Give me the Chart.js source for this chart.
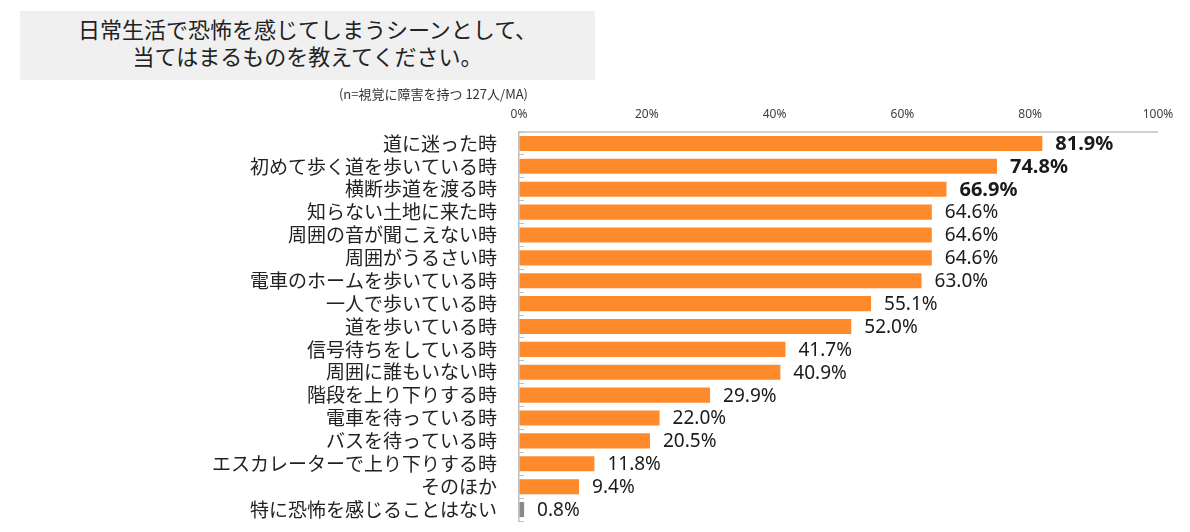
<!DOCTYPE html>
<html lang="ja">
<head>
<meta charset="utf-8">
<title>日常生活で恐怖を感じてしまうシーン</title>
<script src="https://cdn.jsdelivr.net/npm/chart.js@4/dist/chart.umd.min.js"></script>
<style>
  html, body { margin: 0; padding: 0; background: #fff; }
  body { width: 1190px; height: 532px; position: relative; overflow: hidden;
         font-family: "Noto Sans CJK JP", "Noto Sans", sans-serif; color: #222; }
  #titleBox { position: absolute; left: 20px; top: 11px; width: 575px; height: 69px;
              background: #f0f0f0; text-align: center; font-size: 22px; line-height: 27px;
              padding-top: 4px; box-sizing: border-box; z-index: 2; }
  #note { position: absolute; left: 0; top: 84px; width: 528px; text-align: right;
          font-size: 13px; color: #333; z-index: 2; }
  #chart { position: absolute; left: 0; top: 0; }
</style>
</head>
<body>
<div id="titleBox">日常生活で恐怖を感じてしまうシーンとして、<br>当てはまるものを教えてください。</div>
<div id="note">(n=視覚に障害を持つ 127人/MA)</div>
<canvas id="chart" width="1190" height="532"></canvas>
<script>
'use strict';

const categories = [
  '道に迷った時',
  '初めて歩く道を歩いている時',
  '横断歩道を渡る時',
  '知らない土地に来た時',
  '周囲の音が聞こえない時',
  '周囲がうるさい時',
  '電車のホームを歩いている時',
  '一人で歩いている時',
  '道を歩いている時',
  '信号待ちをしている時',
  '周囲に誰もいない時',
  '階段を上り下りする時',
  '電車を待っている時',
  'バスを待っている時',
  'エスカレーターで上り下りする時',
  'そのほか',
  '特に恐怖を感じることはない',
];
const values = [81.9, 74.8, 66.9, 64.6, 64.6, 64.6, 63.0, 55.1, 52.0, 41.7, 40.9, 29.9, 22.0, 20.5, 11.8, 9.4, 0.8];
const xTicks = [0, 20, 40, 60, 80, 100];

const ORANGE = '#ff8a2b';
const GRAY = '#8a8a8a';
const AXIS = '#bfbfbf';
const LEFT = 519, TOP = 132;

// top axis line, only as wide as the plot area
const topAxisLine = {
  id: 'topAxisLine',
  beforeDatasetsDraw(chart) {
    const { ctx, chartArea } = chart;
    ctx.save();
    ctx.strokeStyle = AXIS;
    ctx.lineWidth = 1.5;
    ctx.beginPath();
    ctx.moveTo(chartArea.left, chartArea.top);
    ctx.lineTo(chartArea.right, chartArea.top);
    ctx.stroke();
    ctx.restore();
  },
};

const valueLabels = {
  id: 'valueLabels',
  afterDatasetsDraw(chart) {
    const ctx = chart.ctx;
    const meta = chart.getDatasetMeta(0);
    ctx.save();
    ctx.fillStyle = '#1a1a1a';
    ctx.textBaseline = 'middle';
    ctx.textAlign = 'left';
    meta.data.forEach((bar, i) => {
      const bold = i < 3;
      ctx.font = (bold ? 'bold 20px' : '19px') + ' "Noto Sans", "Noto Sans CJK JP", sans-serif';
      ctx.fillText(values[i].toFixed(1) + '%', bar.x + 13, bar.y + 1);
    });
    ctx.restore();
  },
};

new Chart(document.getElementById('chart'), {
  type: 'bar',
  data: {
    labels: categories,
    datasets: [{
      data: values,
      backgroundColor: values.map((v, i) => (i === values.length - 1 ? GRAY : ORANGE)),
      borderWidth: 0,
      barPercentage: 0.66,
      categoryPercentage: 1,
    }],
  },
  options: {
    indexAxis: 'y',
    responsive: false,
    animation: false,
    layout: { padding: { top: 95, right: 32, bottom: 11, left: 0 } },
    plugins: { legend: { display: false }, tooltip: { enabled: false } },
    scales: {
      x: {
        position: 'top',
        min: 0,
        max: 100,
        afterFit: s => { s.height = TOP - 95; },
        afterBuildTicks: s => { s.ticks = xTicks.map(v => ({ value: v })); },
        grid: { drawOnChartArea: false, drawTicks: false },
        border: { display: false },
        ticks: {
          padding: 10,
          color: '#404040',
          font: { size: 12, family: '"Noto Sans", "Noto Sans CJK JP", sans-serif' },
          callback: v => v + '%',
        },
      },
      y: {
        afterFit: s => { s.width = LEFT; s.paddingTop = 0; s.paddingBottom = 0; },
        grid: { drawOnChartArea: false, drawTicks: true, tickLength: -5, color: AXIS, offset: true },
        border: { display: true, color: AXIS, width: 1.5 },
        ticks: {
          padding: 27,
          color: '#222',
          autoSkip: false,
          font: { size: 19, family: '"Noto Sans CJK JP", sans-serif' },
        },
      },
    },
  },
  plugins: [topAxisLine, valueLabels],
});
</script>
</body>
</html>
